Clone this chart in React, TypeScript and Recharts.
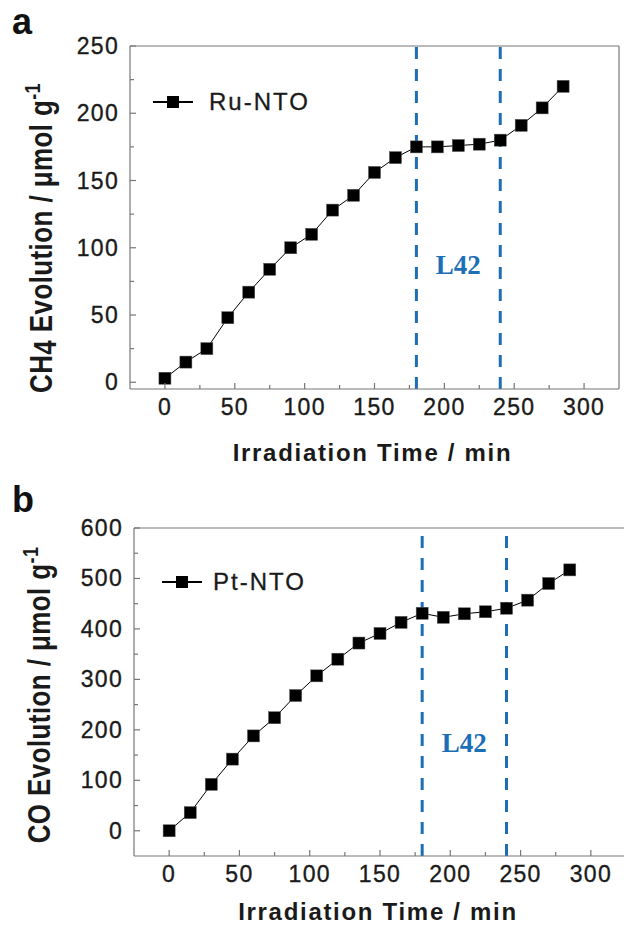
import React from 'react';
import { LineChart, Line, XAxis, YAxis, ReferenceLine, ReferenceArea, Legend } from 'recharts';

// irradiation times (min)
const times = [0, 15, 30, 45, 60, 75, 90, 105, 120, 135, 150, 165, 180, 195, 210, 225, 240, 255, 270, 285];
// CH4 evolution, Ru-NTO (umol/g)
const ruNto = [3, 15, 25, 48, 67, 84, 100, 110, 128, 139, 156, 167, 175, 175, 176, 177, 180, 191, 204, 220];
// CO evolution, Pt-NTO (umol/g)
const ptNto = [0, 36, 92, 142, 188, 224, 268, 307, 340, 372, 391, 413, 431, 423, 430, 434, 441, 457, 490, 517];

const xTicks = [0, 25, 50, 75, 100, 125, 150, 175, 200, 225, 250, 275, 300];
const ch4Ticks = [0, 25, 50, 75, 100, 125, 150, 175, 200, 225, 250];
const coTicks = [0, 50, 100, 150, 200, 250, 300, 350, 400, 450, 500, 550, 600];

// L42 illumination window
const l42Start = 180;
const l42End = 240;

const ruData = times.map((t, i) => ({ t, value: ruNto[i] }));
const ptData = times.map((t, i) => ({ t, value: ptNto[i] }));

const FONT = '"Liberation Sans", Arial, sans-serif';
const AXIS = '#777';
const BLUE = '#1c6fb6';
const INK = '#1a1a1a';

const AxisTick = (props: any) => {
  const { x, y, payload, axis, step } = props;
  const major = payload.value % step === 0;
  const len = major ? 6 : 4;
  if (axis === 'x') {
    return (
      <g>
        <line x1={x} x2={x} y1={y} y2={y - len} stroke={AXIS} strokeWidth={1.2} />
        {major && (
          <text x={x} y={y + 26} textAnchor="middle" fontFamily={FONT} fontSize={23} letterSpacing={1.3} fill={INK} stroke={INK} strokeWidth={0.35}>
            {payload.value}
          </text>
        )}
      </g>
    );
  }
  return (
    <g>
      <line x1={x} x2={x + len} y1={y} y2={y} stroke={AXIS} strokeWidth={1.2} />
      {major && (
        <text x={x - 11} y={y + 8} textAnchor="end" fontFamily={FONT} fontSize={23} letterSpacing={1.3} fill={INK} stroke={INK} strokeWidth={0.35}>
          {payload.value}
        </text>
      )}
    </g>
  );
};

const xTitle = (baseline: number) => (props: any) => {
  const vb = props.viewBox;
  return (
    <text x={vb.x + vb.width / 2 - 2} y={baseline} textAnchor="middle" fontFamily={FONT} fontWeight="bold" fontSize={24} letterSpacing={1.7} fill={INK}>
      Irradiation Time / min
    </text>
  );
};

const yTitle = (gas: string, sub: string, cx: number, cy: number) => () => (
  <text
    transform={`translate(${cx},${cy}) rotate(-90) scale(1,1.2)`}
    textAnchor="middle"
    fontFamily={FONT}
    fontWeight="bold"
    fontSize={26}
    letterSpacing={0.4}
    fill={INK}
  >
    {gas}
    {sub && <tspan dy={3}>{sub}</tspan>}
    <tspan dy={sub ? -3 : 0}> Evolution / μmol g</tspan>
    <tspan fontSize={18} dy={-10}>-1</tspan>
  </text>
);

const legendContent = (name: string, textX: number) => () => (
  <svg width={180} height={28} style={{ display: 'block' }}>
    <line x1={3} x2={43} y1={14} y2={14} stroke="#000" strokeWidth={2} />
    <rect x={17} y={8} width={12} height={12} fill="#000" />
    <text x={textX} y={22} fontFamily={FONT} fontSize={24} letterSpacing={2} fill={INK} stroke={INK} strokeWidth={0.3}>
      {name}
    </text>
  </svg>
);

const squareDot = (p: any) => (
  <rect key={`d-${p.index}`} x={p.cx - 6} y={p.cy - 6} width={12} height={12} fill="#000" stroke="#555" strokeWidth={0.5} />
);

const l42Label = {
  value: 'L42',
  position: 'center' as const,
  fill: BLUE,
  fontFamily: '"Liberation Serif", "Times New Roman", serif',
  fontWeight: 'bold',
  fontSize: 27,
};

const panelLetter = (top: number): React.CSSProperties => ({
  position: 'absolute',
  left: 12,
  top,
  fontFamily: FONT,
  fontWeight: 'bold',
  fontSize: 36,
  lineHeight: '36px',
  color: '#111',
});

export default function App() {
  return (
    <div style={{ position: 'absolute', left: 0, top: 0, width: 624, height: 925, overflow: 'hidden', background: '#fff' }}>
      <div style={panelLetter(4)}>a</div>
      <div style={panelLetter(482)}>b</div>

      <div style={{ position: 'absolute', left: 0, top: 0 }}>
        <LineChart width={624} height={480} data={ruData} margin={{ top: 46, right: 5, bottom: 31, left: 70 }}>
          <XAxis
            type="number"
            dataKey="t"
            domain={[-25, 325]}
            ticks={xTicks}
            interval={0}
            height={60}
            tickSize={0}
            tickMargin={0}
            stroke={AXIS}
            strokeWidth={1.2}
            tick={<AxisTick axis="x" step={50} />}
            label={xTitle(461)}
          />
          <YAxis
            type="number"
            domain={[-5, 250]}
            ticks={ch4Ticks}
            interval={0}
            width={60}
            tickSize={0}
            tickMargin={0}
            stroke={AXIS}
            strokeWidth={1.2}
            tick={<AxisTick axis="y" step={50} />}
            label={yTitle('CH', '4', 52, 238)}
          />
          <ReferenceLine y={250} stroke={AXIS} strokeWidth={1.2} />
          <ReferenceLine x={325} stroke={AXIS} strokeWidth={1.2} />
          <ReferenceLine x={l42Start} stroke={BLUE} strokeWidth={3} strokeDasharray="12 10" />
          <ReferenceLine x={l42End} stroke={BLUE} strokeWidth={3} strokeDasharray="12 10" />
          <ReferenceArea x1={l42Start} x2={l42End} y1={75} y2={100} fill="none" stroke="none" label={l42Label} />
          <Legend
            layout="vertical"
            align="center"
            verticalAlign="middle"
            wrapperStyle={{ left: 150, top: 88 }}
            content={legendContent('Ru-NTO', 59)}
          />
          <Line
            type="linear"
            dataKey="value"
            name="Ru-NTO"
            stroke="#000"
            strokeWidth={1}
            dot={squareDot}
            activeDot={false}
            isAnimationActive={false}
          />
        </LineChart>
      </div>

      <div style={{ position: 'absolute', left: 0, top: 480 }}>
        <LineChart width={640} height={445} data={ptData} margin={{ top: 48, right: 14, bottom: 19, left: 74 }}>
          <XAxis
            type="number"
            dataKey="t"
            domain={[-25, 325]}
            ticks={xTicks}
            interval={0}
            height={50}
            tickSize={0}
            tickMargin={0}
            stroke={AXIS}
            strokeWidth={1.2}
            tick={<AxisTick axis="x" step={50} />}
            label={xTitle(440)}
          />
          <YAxis
            type="number"
            domain={[-50, 600]}
            ticks={coTicks}
            interval={0}
            width={60}
            tickSize={0}
            tickMargin={0}
            stroke={AXIS}
            strokeWidth={1.2}
            tick={<AxisTick axis="y" step={100} />}
            label={yTitle('CO', '', 50, 215)}
          />
          <ReferenceLine y={600} stroke={AXIS} strokeWidth={1.2} />
          <ReferenceLine x={325} stroke={AXIS} strokeWidth={1.2} />
          <ReferenceLine x={l42Start} stroke={BLUE} strokeWidth={3} strokeDasharray="12 10" />
          <ReferenceLine x={l42End} stroke={BLUE} strokeWidth={3} strokeDasharray="12 10" />
          <ReferenceArea x1={l42Start} x2={l42End} y1={150} y2={200} fill="none" stroke="none" label={l42Label} />
          <Legend
            layout="vertical"
            align="center"
            verticalAlign="middle"
            wrapperStyle={{ left: 159, top: 88 }}
            content={legendContent('Pt-NTO', 54)}
          />
          <Line
            type="linear"
            dataKey="value"
            name="Pt-NTO"
            stroke="#000"
            strokeWidth={1}
            dot={squareDot}
            activeDot={false}
            isAnimationActive={false}
          />
        </LineChart>
      </div>
    </div>
  );
}
